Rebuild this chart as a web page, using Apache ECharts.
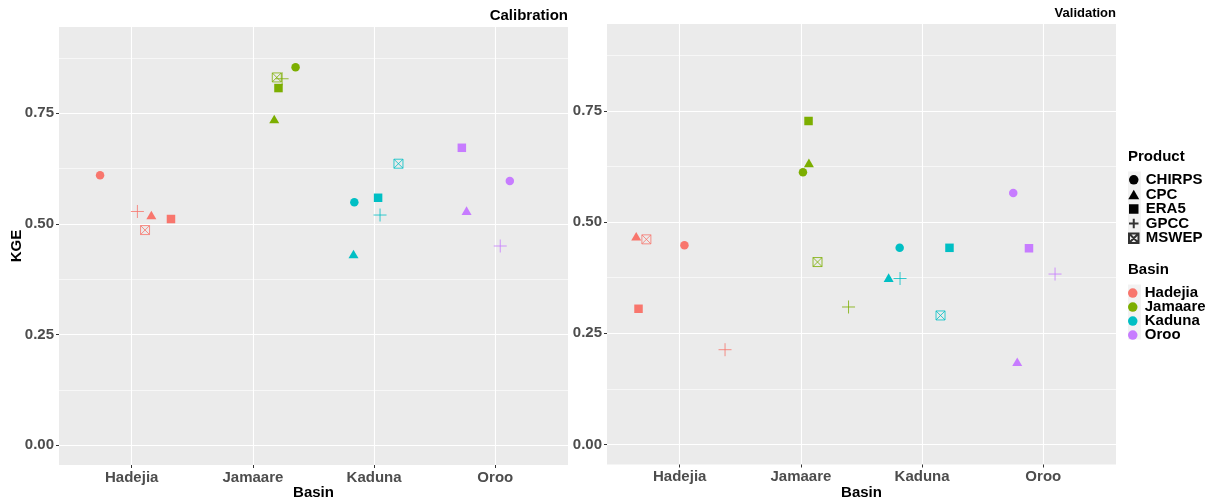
<!DOCTYPE html>
<html><head><meta charset="utf-8">
<script src="https://cdn.jsdelivr.net/npm/echarts@6/dist/echarts.min.js"></script>
<style>html,body{margin:0;padding:0;background:#fff}#c{width:1213px;height:502px}</style>
</head><body><div id="c"></div>
<script>
// ---- data ----
const basins = ['Hadejia', 'Jamaare', 'Kaduna', 'Oroo'];
const basinColors = ['#F8766D', '#7CAE00', '#00BFC4', '#C77CFF'];
const products = ['CHIRPS', 'CPC', 'ERA5', 'GPCC', 'MSWEP'];
const yTicks = [0, 0.25, 0.5, 0.75];
const yMinorTicks = [0.125, 0.375, 0.625, 0.875];

// Calibration KGE (per basin: Hadejia, Jamaare, Kaduna, Oroo)
const calCHIRPS = [0.610, 0.854, 0.549, 0.597];
const calCPC    = [0.520, 0.737, 0.432, 0.530];
const calERA5   = [0.511, 0.807, 0.559, 0.672];
const calGPCC   = [0.528, 0.828, 0.520, 0.450];
const calMSWEP  = [0.486, 0.831, 0.636, null];
// Calibration horizontal jitter (category units)
const calJitCHIRPS = [-0.261, 0.352, -0.163, 0.120];
const calJitCPC    = [0.162, 0.176, -0.170, -0.237];
const calJitERA5   = [0.324, 0.211, 0.033, -0.276];
const calJitGPCC   = [0.047, 0.241, 0.049, 0.041];
const calJitMSWEP  = [0.110, 0.197, 0.201, null];

// Validation KGE
const valCHIRPS = [0.448, 0.612, 0.442, 0.565];
const valCPC    = [0.468, 0.633, 0.375, 0.186];
const valERA5   = [0.305, 0.727, 0.442, 0.441];
const valGPCC   = [0.213, 0.309, 0.373, 0.383];
const valMSWEP  = [0.461, 0.410, 0.290, null];
// Validation horizontal jitter
const valJitCHIRPS = [0.039, 0.017, -0.185, -0.248];
const valJitCPC    = [-0.359, 0.066, -0.276, -0.215];
const valJitERA5   = [-0.340, 0.063, 0.226, -0.118];
const valJitGPCC   = [0.374, 0.393, -0.182, 0.097];
const valJitMSWEP  = [-0.275, 0.137, 0.152, null];

const calValues = [calCHIRPS, calCPC, calERA5, calGPCC, calMSWEP];
const calJitter = [calJitCHIRPS, calJitCPC, calJitERA5, calJitGPCC, calJitMSWEP];
const valValues = [valCHIRPS, valCPC, valERA5, valGPCC, valMSWEP];
const valJitter = [valJitCHIRPS, valJitCPC, valJitERA5, valJitGPCC, valJitMSWEP];

// ---- styling ----
const FONT = '"Liberation Sans", Arial, sans-serif';
const symbols = {
  CHIRPS: {symbol: 'circle', size: 8.5, stroke: false},
  CPC: {symbol: 'path://M5,0L10,8.66L0,8.66Z', size: 10, stroke: false},
  ERA5: {symbol: 'path://M0,0L10,0L10,10L0,10Z', size: 8.5, stroke: false},
  GPCC: {symbol: 'path://M0,6L12,6M6,0L6,12', size: 13, stroke: true},
  MSWEP: {symbol: 'path://M0,0L10,0L10,10L0,10ZM0,0L10,10M10,0L0,10', size: 9, stroke: true}
};

const grids = [
  {left: 59, top: 27, width: 509, height: 438, backgroundColor: '#EBEBEB', show: true, borderWidth: 0},
  {left: 607, top: 24, width: 509, height: 440.5, backgroundColor: '#EBEBEB', show: true, borderWidth: 0}
];

function xAxisFor(g) {
  return {
    gridIndex: g, type: 'value', min: -0.6, max: 3.6,
    axisLine: {show: false, onZero: false},
    axisTick: {show: true, customValues: [0, 1, 2, 3], length: 3, lineStyle: {color: '#333333', width: 1}},
    axisLabel: {customValues: [0, 1, 2, 3], formatter: v => basins[Math.round(v)] || '', margin: 5,
      color: '#4D4D4D', fontSize: 15, fontWeight: 'bold', fontFamily: FONT},
    splitLine: {show: true, lineStyle: {color: '#FFFFFF', width: 1.1}}
  };
}
function yAxisFor(g) {
  return [{
    gridIndex: g, type: 'value', min: -0.045, max: 0.945,
    axisLine: {show: false, onZero: false},
    axisTick: {show: true, customValues: yTicks, length: 3, lineStyle: {color: '#333333', width: 1}},
    axisLabel: {customValues: yTicks, formatter: v => v.toFixed(2), margin: 5,
      color: '#4D4D4D', fontSize: 15, fontWeight: 'bold', fontFamily: FONT},
    splitLine: {show: true, lineStyle: {color: '#FFFFFF', width: 1.1}}
  }, {
    gridIndex: g, type: 'value', min: -0.045, max: 0.945, position: 'left',
    axisLine: {show: false, onZero: false},
    axisTick: {show: false, customValues: yMinorTicks},
    axisLabel: {show: false, customValues: yMinorTicks},
    splitLine: {show: true, lineStyle: {color: '#FFFFFF', width: 0.6}}
  }];
}

const series = [];
[[calValues, calJitter], [valValues, valJitter]].forEach(([vals, jits], p) => {
  products.forEach((prod, k) => {
    const s = symbols[prod];
    const data = [];
    basins.forEach((b, i) => {
      if (vals[k][i] == null) return;
      data.push({
        value: [i + jits[k][i], vals[k][i]],
        itemStyle: s.stroke ? {borderColor: basinColors[i]} : {color: basinColors[i]}
      });
    });
    series.push({
      type: 'scatter', name: prod, xAxisIndex: p, yAxisIndex: p * 2,
      symbol: s.symbol, symbolSize: s.size, symbolKeepAspect: true,
      itemStyle: s.stroke
        ? {color: 'rgba(0,0,0,0)', borderColor: '#000', borderWidth: 1, opacity: 0.8}
        : {color: '#000', borderWidth: 0, opacity: 1},
      emphasis: {disabled: true},
      data: data
    });
  });
});
basins.forEach((b, i) => {
  series.push({type: 'scatter', name: b, xAxisIndex: 0, yAxisIndex: 0, symbol: 'circle',
    itemStyle: {color: basinColors[i], opacity: 1}, data: []});
});

const txt = (x, y, text, size, opts) => Object.assign({
  type: 'text', x: x, y: y, silent: true,
  style: Object.assign({text: text, fontSize: size, fontWeight: 'bold', fontFamily: FONT, fill: '#000',
    align: 'center', verticalAlign: 'middle'}, (opts && opts.style) || {})
}, (opts && opts.el) || {});

const legendCommon = {
  orient: 'vertical', left: 1128, selectedMode: false, padding: 0,
  itemWidth: 14, itemHeight: 9.5,
  textStyle: {fontSize: 15, fontWeight: 'bold', fontFamily: FONT, color: '#000', lineHeight: 13}
};

const option = {
  animation: false,
  backgroundColor: '#FFFFFF',
  grid: grids,
  xAxis: [xAxisFor(0), xAxisFor(1)],
  yAxis: yAxisFor(0).concat(yAxisFor(1)),
  legend: [
    Object.assign({data: products, top: 172.3, itemGap: -0.4}, legendCommon),
    Object.assign({data: basins, top: 285.6, itemGap: -1}, legendCommon)
  ],
  graphic: [
    {type: 'rect', shape: {x: 1128, y: 171.5, width: 13, height: 72}, style: {fill: '#F2F2F2'}, z: -1, silent: true},
    {type: 'rect', shape: {x: 1128, y: 284.5, width: 13, height: 55}, style: {fill: '#F2F2F2'}, z: -1, silent: true},
    txt(568, 16, 'Calibration', 15, {style: {align: 'right'}}),
    txt(1116, 13, 'Validation', 13, {style: {align: 'right'}}),
    txt(313.5, 493, 'Basin', 15),
    txt(861.5, 493, 'Basin', 15),
    txt(17, 246, 'KGE', 15, {el: {rotation: Math.PI / 2}}),
    txt(1128, 157, 'Product', 15, {style: {align: 'left'}}),
    txt(1128, 270, 'Basin', 15, {style: {align: 'left'}})
  ],
  series: series
};

const chart = echarts.init(document.getElementById('c'), null, {renderer: 'canvas'});
chart.setOption(option);
</script>
</body></html>
